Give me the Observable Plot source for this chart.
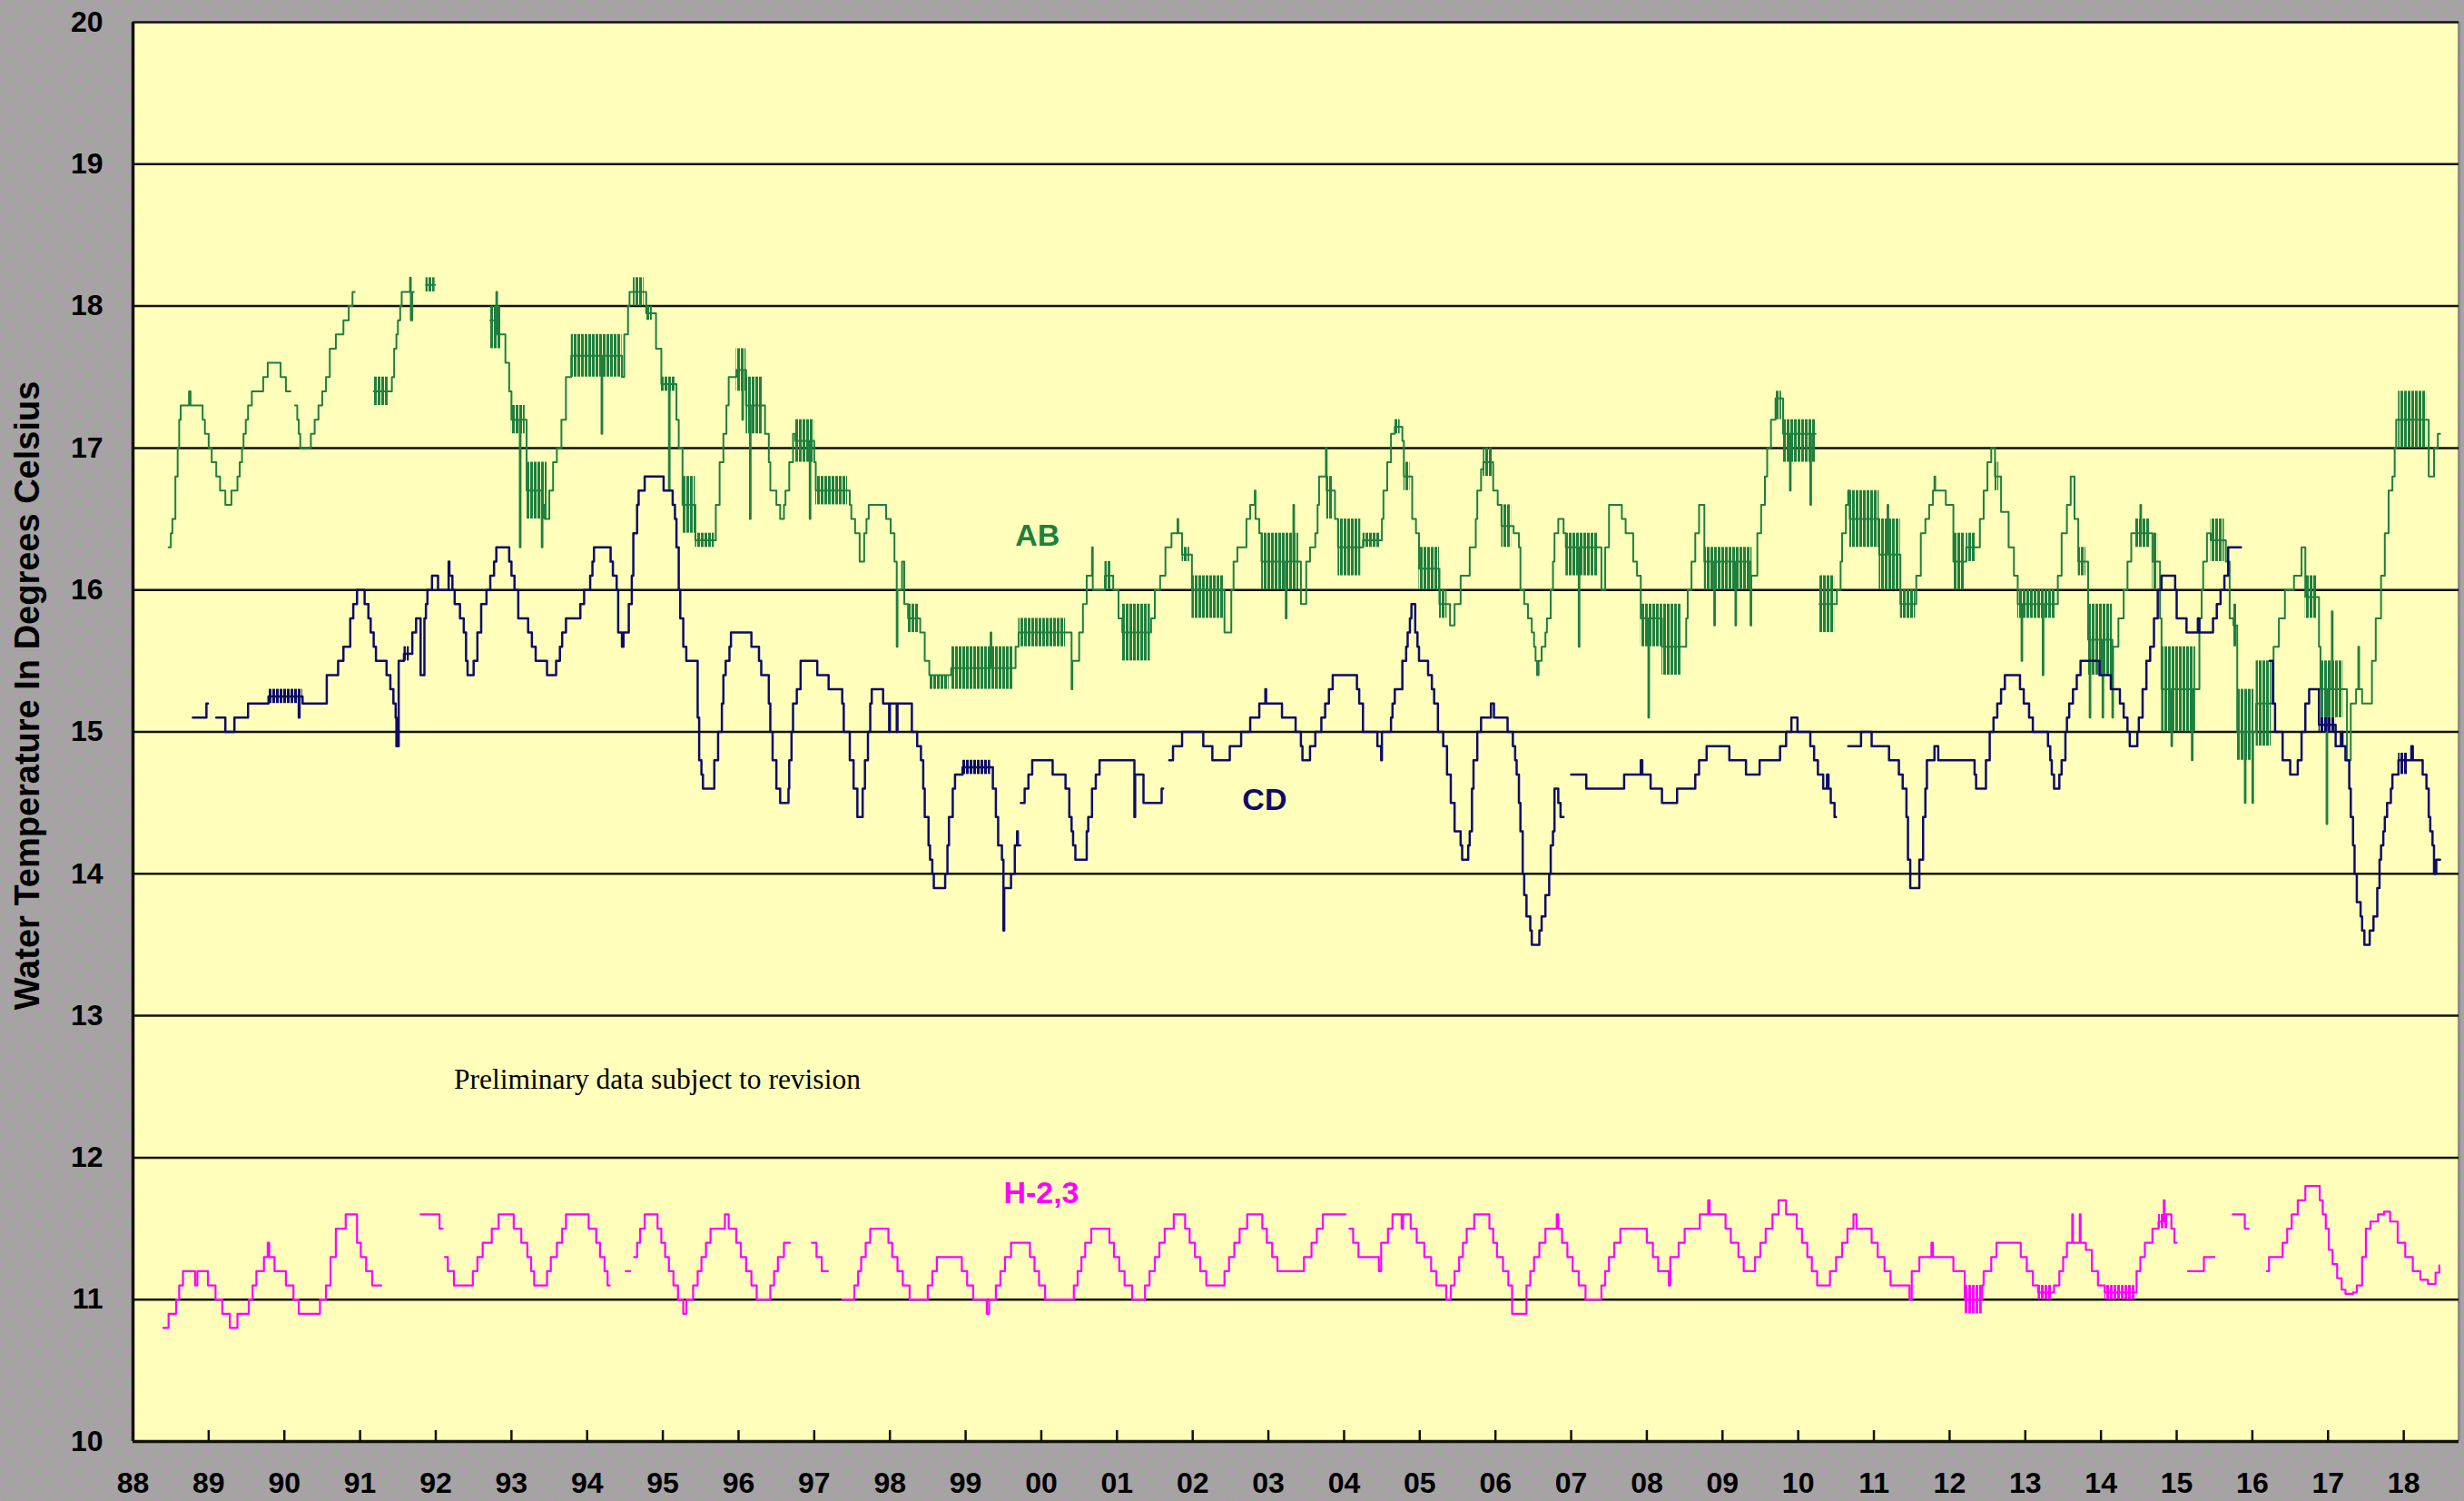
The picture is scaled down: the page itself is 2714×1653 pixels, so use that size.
<!DOCTYPE html>
<html>
<head>
<meta charset="utf-8">
<script src="https://cdn.jsdelivr.net/npm/d3@7"></script>
<script src="https://cdn.jsdelivr.net/npm/@observablehq/plot@0.6"></script>
<style>
html, body { margin: 0; padding: 0; }
body {
  width: 2714px; height: 1653px; overflow: hidden;
  background: repeating-conic-gradient(#9ca698 0% 25%, #b0a0b0 0% 50%) 0 0 / 2px 2px;
}
#chart svg { display: block; }
</style>
</head>
<body>
<div id="chart"></div>
<script>
// ---------- axis values ----------
const xDomain = [1988, 2018.73];
const yDomain = [10, 20];
const xTicks = d3.range(1988, 2019);
const yTicks = d3.range(10, 21);
const gridValues = d3.range(11, 21);
const yTitle = "Water Temperature In Degrees Celsius";
const seriesNames = ["AB", "CD", "H-2,3"];
const note = "Preliminary data subject to revision";

// ---------- AB (decimal year, °C); null = gap ----------
const abPts = [
[1988.47,16.3],[1988.50,16.4],[1988.52,16.5],[1988.56,16.8],[1988.59,17.0],[1988.61,17.2],[1988.63,17.3],[1988.74,17.4],[1988.76,17.3],[1988.92,17.2],[1988.95,17.1],[1989.00,17.0],[1989.04,16.9],[1989.10,16.8],[1989.15,16.7],[1989.22,16.6],[1989.30,16.7],[1989.38,16.8],[1989.41,16.9],[1989.44,17.0],[1989.46,17.1],[1989.49,17.2],[1989.52,17.3],[1989.57,17.4],[1989.72,17.5],[1989.78,17.6],[1989.95,17.5],[1990.02,17.4],[1990.08,null],
[1990.14,17.3],[1990.17,17.2],[1990.19,17.1],[1990.21,17.0],[1990.35,17.1],[1990.40,17.2],[1990.45,17.3],[1990.50,17.4],[1990.55,17.5],[1990.60,17.7],[1990.68,17.8],[1990.78,17.9],[1990.85,18.0],[1990.90,18.1],[1990.93,null],
[1991.18,17.4],[1991.37,17.4],[1991.42,17.5],[1991.45,17.7],[1991.48,17.8],[1991.50,17.9],[1991.53,18.0],[1991.55,18.1],[1991.66,18.2],[1991.67,17.9],[1991.69,18.1],[1991.71,null],
[1991.87,18.15],[1991.99,null],
[1992.72,17.9],[1992.80,18.1],[1992.81,17.8],[1992.86,17.8],[1992.92,17.6],[1992.97,17.4],[1993.00,17.2],[1993.11,16.3],[1993.12,17.2],[1993.20,16.7],[1993.40,16.3],[1993.41,16.6],[1993.44,16.5],[1993.50,16.7],[1993.55,16.9],[1993.60,17.0],[1993.66,17.2],[1993.72,17.5],[1993.79,17.65],[1994.19,17.1],[1994.20,17.65],[1994.46,17.5],[1994.49,17.8],[1994.54,18.0],[1994.56,18.1],[1994.78,17.95],[1994.91,17.7],[1994.98,17.45],[1995.08,16.7],[1995.09,17.45],[1995.18,17.2],[1995.21,17.0],[1995.26,16.6],[1995.43,16.35],[1995.70,16.6],[1995.75,16.9],[1995.80,17.1],[1995.84,17.3],[1995.87,17.5],[1995.97,17.55],[1996.05,17.2],[1996.06,17.55],[1996.10,17.3],[1996.15,16.5],[1996.16,17.3],[1996.35,17.1],[1996.40,16.9],[1996.42,16.7],[1996.50,16.6],[1996.55,16.5],[1996.60,16.6],[1996.62,16.7],[1996.67,16.9],[1996.72,17.1],[1996.75,17.05],[1996.94,16.5],[1996.95,17.05],[1997.00,16.9],[1997.02,16.7],[1997.47,16.6],[1997.49,16.5],[1997.54,16.4],[1997.60,16.2],[1997.66,16.4],[1997.69,16.5],[1997.72,16.6],[1997.95,16.5],[1998.01,16.4],[1998.06,16.2],[1998.09,15.6],[1998.10,16.0],[1998.16,16.2],[1998.19,15.9],[1998.24,15.8],[1998.40,15.7],[1998.46,15.5],[1998.52,15.4],[1998.81,15.45],[1999.33,15.7],[1999.34,15.45],[1999.66,15.6],[1999.70,15.7],[2000.40,15.3],[2000.41,15.5],[2000.50,15.7],[2000.55,15.9],[2000.60,16.1],[2000.67,16.3],[2000.68,16.0],[2000.84,16.1],[2000.95,16.0],[2001.02,15.8],[2001.07,15.7],[2001.45,15.8],[2001.50,16.0],[2001.57,16.1],[2001.64,16.3],[2001.72,16.4],[2001.80,16.5],[2001.81,16.4],[2001.86,16.25],[2001.99,16.0],[2002.42,15.7],[2002.51,16.0],[2002.54,16.2],[2002.59,16.3],[2002.71,16.5],[2002.76,16.6],[2002.82,16.7],[2002.83,16.5],[2002.88,16.4],[2002.91,16.2],[2003.23,15.8],[2003.24,16.2],[2003.33,16.6],[2003.34,16.2],[2003.43,15.9],[2003.50,16.2],[2003.55,16.3],[2003.62,16.4],[2003.65,16.6],[2003.67,16.8],[2003.76,17.0],[2003.77,16.7],[2003.88,16.5],[2003.92,16.3],[2004.25,16.35],[2004.50,16.5],[2004.52,16.7],[2004.57,16.9],[2004.62,17.1],[2004.67,17.15],[2004.77,17.05],[2004.79,16.8],[2004.90,16.5],[2004.95,16.4],[2004.99,16.15],[2005.26,15.9],[2005.40,15.75],[2005.46,15.9],[2005.54,16.1],[2005.66,16.3],[2005.74,16.5],[2005.76,16.7],[2005.81,16.85],[2005.84,16.9],[2005.97,16.7],[2006.03,16.6],[2006.08,16.45],[2006.24,16.4],[2006.31,16.3],[2006.33,16.0],[2006.38,15.9],[2006.43,15.8],[2006.48,15.7],[2006.51,15.6],[2006.53,15.5],[2006.55,15.4],[2006.57,15.5],[2006.61,15.6],[2006.66,15.7],[2006.68,15.8],[2006.73,16.0],[2006.76,16.2],[2006.78,16.4],[2006.83,16.5],[2006.90,16.4],[2006.93,16.3],[2007.10,15.6],[2007.11,16.3],[2007.40,16.0],[2007.45,16.3],[2007.50,16.6],[2007.67,16.5],[2007.72,16.4],[2007.82,16.2],[2007.87,16.1],[2007.92,15.8],[2008.02,15.1],[2008.03,15.8],[2008.20,15.6],[2008.45,15.6],[2008.52,15.8],[2008.54,16.0],[2008.59,16.2],[2008.64,16.4],[2008.69,16.6],[2008.76,16.2],[2008.89,15.75],[2008.90,16.2],[2009.17,15.75],[2009.18,16.2],[2009.37,15.75],[2009.38,16.1],[2009.46,16.4],[2009.51,16.6],[2009.56,16.8],[2009.59,17.0],[2009.64,17.2],[2009.70,17.35],[2009.80,17.1],[2009.89,16.7],[2009.90,17.1],[2010.16,16.6],[2010.17,17.1],[2010.23,null],
[2010.28,15.9],[2010.48,15.9],[2010.51,16.0],[2010.56,16.2],[2010.58,16.4],[2010.63,16.6],[2010.66,16.7],[2010.68,16.5],[2011.07,16.25],[2011.18,16.6],[2011.19,16.25],[2011.35,15.9],[2011.56,16.1],[2011.62,16.4],[2011.68,16.5],[2011.73,16.6],[2011.78,16.7],[2011.80,16.8],[2011.81,16.7],[2011.95,16.6],[2012.05,16.2],[2012.22,16.3],[2012.40,16.5],[2012.45,16.7],[2012.50,16.9],[2012.55,17.0],[2012.60,16.8],[2012.68,16.55],[2012.78,16.3],[2012.85,16.1],[2012.90,15.9],[2012.95,15.5],[2012.96,15.9],[2013.23,15.4],[2013.24,15.9],[2013.43,16.1],[2013.48,16.4],[2013.55,16.6],[2013.60,16.8],[2013.65,16.5],[2013.70,16.2],[2013.83,15.65],[2013.85,15.1],[2013.86,15.65],[2014.02,15.1],[2014.03,15.65],[2014.15,15.1],[2014.16,15.6],[2014.23,15.8],[2014.30,16.0],[2014.35,16.2],[2014.40,16.4],[2014.52,16.6],[2014.53,16.4],[2014.68,16.2],[2014.78,15.8],[2014.80,15.3],[2014.93,14.9],[2014.94,15.3],[2015.20,14.8],[2015.21,15.3],[2015.30,15.8],[2015.33,16.0],[2015.35,16.2],[2015.40,16.4],[2015.45,16.35],[2015.65,16.2],[2015.70,15.8],[2015.75,15.75],[2015.80,15.0],[2015.90,14.5],[2015.91,15.0],[2016.00,14.5],[2016.01,15.0],[2016.05,15.2],[2016.28,15.6],[2016.35,15.8],[2016.43,16.0],[2016.55,16.1],[2016.65,16.3],[2016.70,15.95],[2016.88,15.6],[2016.90,15.3],[2016.98,14.35],[2016.99,15.3],[2017.05,15.85],[2017.06,15.3],[2017.25,14.8],[2017.30,15.2],[2017.37,15.3],[2017.40,15.6],[2017.41,15.3],[2017.45,15.2],[2017.58,15.5],[2017.63,15.8],[2017.70,16.1],[2017.75,16.4],[2017.80,16.7],[2017.85,16.8],[2017.88,17.0],[2017.90,17.2],[2018.33,16.8],[2018.40,17.0],[2018.45,17.1],[2018.48,17.1]
];
// noisy stretches of AB: [from, to, low, high]
const abBands = [
[1991.18,1991.37,17.3,17.5],[1991.87,1991.99,18.1,18.2],[1992.72,1992.86,17.7,18.0],[1993.00,1993.18,17.1,17.3],[1993.20,1993.47,16.5,16.9],[1993.79,1994.46,17.5,17.8],[1994.61,1994.75,18.0,18.2],[1994.78,1994.86,17.9,18.0],[1994.98,1995.16,17.4,17.5],[1995.26,1995.43,16.4,16.8],[1995.43,1995.68,16.3,16.4],[1995.97,1996.10,17.4,17.7],[1996.10,1996.32,17.1,17.5],[1996.75,1997.00,16.9,17.2],[1997.02,1997.44,16.6,16.8],[1998.24,1998.38,15.7,15.9],[1998.52,1998.78,15.3,15.4],[1998.81,1999.63,15.3,15.6],[1999.70,2000.32,15.6,15.8],[2000.84,2000.92,16.0,16.2],[2001.07,2001.44,15.5,15.9],[2001.86,2001.96,16.2,16.3],[2001.99,2002.41,15.8,16.1],[2002.91,2003.40,16.0,16.4],[2003.77,2003.85,16.5,16.8],[2003.92,2004.22,16.1,16.5],[2004.25,2004.47,16.3,16.4],[2004.67,2004.74,17.1,17.2],[2004.79,2004.87,16.7,16.9],[2004.99,2005.26,16.0,16.3],[2005.26,2005.36,15.8,16.0],[2005.84,2005.96,16.8,17.0],[2006.08,2006.21,16.3,16.6],[2006.93,2007.35,16.1,16.4],[2007.92,2008.20,15.6,15.9],[2008.20,2008.45,15.4,15.9],[2008.76,2009.39,16.0,16.3],[2009.70,2009.78,17.2,17.4],[2009.80,2010.23,16.9,17.2],[2010.28,2010.48,15.7,16.1],[2010.68,2011.07,16.3,16.7],[2011.07,2011.35,16.0,16.5],[2011.35,2011.55,15.8,16.0],[2012.05,2012.20,16.0,16.4],[2012.22,2012.35,16.2,16.4],[2012.60,2012.65,16.7,16.9],[2012.90,2013.40,15.8,16.0],[2013.70,2013.80,16.1,16.3],[2013.83,2014.15,15.4,15.9],[2014.45,2014.65,16.3,16.5],[2014.68,2014.75,16.0,16.4],[2014.80,2015.25,15.0,15.6],[2015.45,2015.63,16.2,16.5],[2015.75,2015.80,15.6,15.9],[2015.80,2016.02,14.8,15.3],[2016.05,2016.25,14.9,15.5],[2016.70,2016.85,15.8,16.1],[2016.90,2017.20,15.1,15.5],[2017.93,2018.30,17.0,17.4]
];

// ---------- CD ----------
const cdPts = [
[1988.79,15.1],[1988.97,15.2],[1988.99,null],
[1989.10,15.1],[1989.22,15.0],[1989.34,15.1],[1989.52,15.2],[1989.79,15.25],[1990.19,15.1],[1990.20,15.25],[1990.24,15.2],[1990.56,15.4],[1990.71,15.5],[1990.78,15.6],[1990.87,15.8],[1990.91,15.9],[1990.96,16.0],[1991.06,15.9],[1991.11,15.8],[1991.14,15.7],[1991.18,15.6],[1991.21,15.5],[1991.35,15.4],[1991.40,15.3],[1991.44,15.2],[1991.47,15.1],[1991.48,14.9],[1991.51,15.5],[1991.58,15.55],[1991.69,15.7],[1991.74,15.8],[1991.80,15.4],[1991.85,15.8],[1991.87,15.9],[1991.89,16.0],[1991.95,16.1],[1992.03,16.0],[1992.17,16.2],[1992.18,16.1],[1992.22,16.0],[1992.25,15.9],[1992.32,15.8],[1992.37,15.7],[1992.40,15.5],[1992.42,15.4],[1992.50,15.5],[1992.55,15.7],[1992.60,15.9],[1992.67,16.0],[1992.72,16.1],[1992.77,16.2],[1992.80,16.3],[1992.97,16.2],[1993.00,16.1],[1993.04,16.0],[1993.09,15.8],[1993.22,15.7],[1993.27,15.6],[1993.32,15.5],[1993.47,15.4],[1993.59,15.5],[1993.64,15.6],[1993.67,15.7],[1993.72,15.8],[1993.91,15.9],[1993.96,16.0],[1994.04,16.1],[1994.07,16.2],[1994.09,16.3],[1994.31,16.2],[1994.34,16.1],[1994.39,16.0],[1994.41,15.7],[1994.46,15.6],[1994.48,15.7],[1994.55,15.9],[1994.59,16.1],[1994.61,16.4],[1994.66,16.6],[1994.68,16.7],[1994.76,16.8],[1995.01,16.7],[1995.13,16.6],[1995.16,16.5],[1995.18,16.3],[1995.21,16.0],[1995.23,15.8],[1995.27,15.6],[1995.31,15.5],[1995.46,15.1],[1995.48,14.8],[1995.51,14.7],[1995.53,14.6],[1995.68,14.8],[1995.73,15.0],[1995.78,15.2],[1995.80,15.4],[1995.83,15.5],[1995.88,15.6],[1995.90,15.7],[1996.17,15.6],[1996.27,15.5],[1996.30,15.4],[1996.40,15.2],[1996.42,15.0],[1996.45,14.8],[1996.50,14.6],[1996.55,14.5],[1996.66,14.6],[1996.67,14.8],[1996.70,15.0],[1996.72,15.2],[1996.77,15.3],[1996.82,15.5],[1997.04,15.4],[1997.19,15.3],[1997.37,15.2],[1997.39,15.0],[1997.47,14.8],[1997.52,14.6],[1997.57,14.4],[1997.64,14.6],[1997.67,14.8],[1997.71,15.0],[1997.74,15.2],[1997.76,15.3],[1997.91,15.2],[1997.99,15.0],[1998.00,15.2],[1998.09,15.0],[1998.10,15.2],[1998.29,15.0],[1998.36,14.9],[1998.41,14.8],[1998.44,14.6],[1998.46,14.4],[1998.51,14.2],[1998.53,14.1],[1998.56,14.0],[1998.58,13.9],[1998.73,14.0],[1998.76,14.2],[1998.78,14.4],[1998.83,14.6],[1998.86,14.7],[1998.96,14.75],[1999.36,14.6],[1999.40,14.4],[1999.43,14.2],[1999.48,14.1],[1999.50,13.6],[1999.51,13.9],[1999.60,14.0],[1999.65,14.2],[1999.68,14.3],[1999.69,14.2],[1999.72,null],
[1999.73,14.5],[1999.78,14.6],[1999.83,14.7],[1999.88,14.8],[2000.15,14.7],[2000.32,14.6],[2000.37,14.4],[2000.40,14.3],[2000.42,14.2],[2000.45,14.1],[2000.60,14.3],[2000.62,14.4],[2000.67,14.6],[2000.72,14.7],[2000.77,14.8],[2001.23,14.4],[2001.24,14.7],[2001.35,14.5],[2001.59,14.6],[2001.61,null],
[2001.69,14.8],[2001.74,14.9],[2001.86,15.0],[2002.14,14.9],[2002.26,14.8],[2002.49,14.9],[2002.64,15.0],[2002.76,15.1],[2002.88,15.2],[2002.96,15.3],[2002.97,15.2],[2003.18,15.1],[2003.36,15.0],[2003.43,14.9],[2003.45,14.8],[2003.55,14.9],[2003.62,15.0],[2003.70,15.1],[2003.75,15.2],[2003.80,15.3],[2003.85,15.4],[2004.17,15.3],[2004.20,15.2],[2004.25,15.0],[2004.44,14.9],[2004.49,14.8],[2004.50,15.0],[2004.62,15.1],[2004.64,15.2],[2004.67,15.3],[2004.77,15.5],[2004.82,15.6],[2004.84,15.7],[2004.87,15.8],[2004.89,15.9],[2004.94,15.7],[2004.97,15.6],[2004.99,15.5],[2005.11,15.4],[2005.16,15.3],[2005.19,15.2],[2005.24,15.0],[2005.31,14.9],[2005.36,14.7],[2005.41,14.5],[2005.46,14.3],[2005.54,14.2],[2005.56,14.1],[2005.64,14.2],[2005.66,14.3],[2005.69,14.6],[2005.71,14.8],[2005.76,15.0],[2005.81,15.1],[2005.94,15.2],[2005.98,15.1],[2006.16,15.0],[2006.23,14.9],[2006.26,14.8],[2006.28,14.7],[2006.31,14.5],[2006.33,14.3],[2006.36,14.0],[2006.38,13.85],[2006.41,13.7],[2006.46,13.6],[2006.48,13.5],[2006.58,13.6],[2006.61,13.7],[2006.66,13.85],[2006.71,14.0],[2006.73,14.2],[2006.76,14.3],[2006.78,14.6],[2006.83,14.5],[2006.86,14.4],[2006.90,null],
[2007.00,14.7],[2007.20,14.6],[2007.70,14.7],[2007.92,14.8],[2007.94,14.7],[2008.05,14.6],[2008.20,14.5],[2008.40,14.6],[2008.64,14.7],[2008.69,14.8],[2008.79,14.9],[2009.09,14.8],[2009.31,14.7],[2009.49,14.8],[2009.76,14.9],[2009.84,15.0],[2009.91,15.1],[2009.99,15.0],[2010.16,14.9],[2010.21,14.8],[2010.26,14.7],[2010.33,14.6],[2010.38,14.7],[2010.40,14.6],[2010.43,14.5],[2010.48,14.4],[2010.50,null],
[2010.66,14.9],[2010.83,15.0],[2010.97,14.9],[2011.20,14.8],[2011.33,14.7],[2011.38,14.6],[2011.43,14.4],[2011.45,14.1],[2011.48,13.9],[2011.60,14.1],[2011.65,14.4],[2011.68,14.6],[2011.70,14.8],[2011.80,14.9],[2011.85,14.8],[2012.33,14.7],[2012.35,14.6],[2012.48,14.8],[2012.53,15.0],[2012.58,15.1],[2012.63,15.2],[2012.68,15.3],[2012.73,15.4],[2012.93,15.3],[2012.98,15.2],[2013.05,15.1],[2013.10,15.0],[2013.30,14.9],[2013.33,14.8],[2013.35,14.7],[2013.38,14.6],[2013.45,14.7],[2013.48,14.8],[2013.53,15.0],[2013.55,15.1],[2013.58,15.2],[2013.63,15.3],[2013.68,15.4],[2013.73,15.5],[2013.98,15.4],[2014.13,15.3],[2014.25,15.2],[2014.30,15.1],[2014.35,15.0],[2014.38,14.9],[2014.48,15.0],[2014.50,15.1],[2014.55,15.3],[2014.60,15.5],[2014.65,15.6],[2014.70,15.8],[2014.75,16.0],[2014.80,16.1],[2014.98,16.0],[2015.00,15.8],[2015.13,15.7],[2015.28,15.8],[2015.30,15.7],[2015.48,15.8],[2015.53,15.9],[2015.58,16.0],[2015.63,16.1],[2015.68,16.3],[2015.85,null],
[2016.23,15.5],[2016.27,15.2],[2016.30,15.0],[2016.40,14.8],[2016.50,14.7],[2016.60,14.8],[2016.65,15.0],[2016.70,15.2],[2016.75,15.3],[2016.88,15.05],[2017.10,14.9],[2017.17,15.0],[2017.19,14.9],[2017.23,14.8],[2017.28,14.6],[2017.30,14.4],[2017.33,14.2],[2017.35,14.0],[2017.38,13.8],[2017.43,13.7],[2017.45,13.6],[2017.48,13.5],[2017.55,13.6],[2017.60,13.7],[2017.65,13.9],[2017.68,14.1],[2017.70,14.2],[2017.73,14.3],[2017.75,14.4],[2017.78,14.5],[2017.83,14.6],[2017.85,14.7],[2017.93,14.8],[2018.10,14.9],[2018.12,14.8],[2018.25,14.7],[2018.30,14.6],[2018.33,14.4],[2018.35,14.3],[2018.38,14.2],[2018.40,14.0],[2018.43,14.1],[2018.48,14.1]
];
const cdBands = [
[1989.79,1990.24,15.2,15.3],[1991.58,1991.65,15.5,15.6],[1998.96,1999.33,14.7,14.8],[2016.88,2017.10,15.0,15.1],[2017.93,2018.05,14.7,14.85]
];

// ---------- H-2,3 ----------
const hPts = [
[1988.40,10.8],[1988.47,10.9],[1988.57,11.0],[1988.61,11.1],[1988.66,11.2],[1988.82,11.1],[1988.85,11.2],[1988.99,11.1],[1989.09,11.0],[1989.18,10.9],[1989.28,10.8],[1989.38,10.9],[1989.53,11.0],[1989.58,11.1],[1989.63,11.2],[1989.73,11.3],[1989.78,11.4],[1989.80,11.3],[1989.87,11.2],[1990.02,11.1],[1990.12,11.0],[1990.19,10.9],[1990.47,11.0],[1990.55,11.1],[1990.61,11.3],[1990.68,11.5],[1990.81,11.6],[1990.96,11.4],[1991.01,11.3],[1991.08,11.2],[1991.16,11.1],[1991.28,null],
[1991.80,11.6],[1992.05,11.5],[1992.09,null],
[1992.12,11.3],[1992.16,11.2],[1992.24,11.1],[1992.49,11.2],[1992.55,11.3],[1992.62,11.4],[1992.74,11.5],[1992.83,11.6],[1993.03,11.5],[1993.13,11.4],[1993.21,11.3],[1993.26,11.2],[1993.30,11.1],[1993.47,11.2],[1993.52,11.3],[1993.60,11.4],[1993.67,11.5],[1993.72,11.6],[1994.02,11.5],[1994.12,11.4],[1994.17,11.3],[1994.23,11.2],[1994.27,11.1],[1994.30,null],
[1994.51,11.2],[1994.57,null],
[1994.62,11.3],[1994.66,11.4],[1994.70,11.5],[1994.76,11.6],[1994.93,11.5],[1994.98,11.4],[1995.03,11.3],[1995.08,11.2],[1995.14,11.1],[1995.20,11.0],[1995.27,10.9],[1995.31,11.0],[1995.40,11.1],[1995.46,11.2],[1995.51,11.3],[1995.57,11.4],[1995.63,11.5],[1995.82,11.6],[1995.87,11.5],[1995.97,11.4],[1996.03,11.3],[1996.10,11.2],[1996.17,11.1],[1996.24,11.0],[1996.42,11.1],[1996.47,11.2],[1996.52,11.3],[1996.60,11.4],[1996.68,null],
[1996.97,11.4],[1997.03,11.3],[1997.10,11.2],[1997.18,null],
[1997.37,11.0],[1997.53,11.1],[1997.58,11.2],[1997.62,11.3],[1997.68,11.4],[1997.74,11.5],[1997.98,11.4],[1998.03,11.3],[1998.10,11.2],[1998.17,11.1],[1998.26,11.0],[1998.50,11.1],[1998.56,11.2],[1998.62,11.3],[1998.95,11.2],[1999.02,11.1],[1999.10,11.0],[1999.28,10.9],[1999.31,11.0],[1999.40,11.1],[1999.46,11.2],[1999.52,11.3],[1999.60,11.4],[1999.85,11.3],[1999.91,11.2],[1999.97,11.1],[2000.05,11.0],[2000.43,11.1],[2000.48,11.2],[2000.53,11.3],[2000.58,11.4],[2000.66,11.5],[2000.90,11.4],[2000.96,11.3],[2001.03,11.2],[2001.10,11.1],[2001.20,11.0],[2001.37,11.1],[2001.43,11.2],[2001.50,11.3],[2001.56,11.4],[2001.63,11.5],[2001.75,11.6],[2001.90,11.5],[2001.96,11.4],[2002.03,11.3],[2002.10,11.2],[2002.18,11.1],[2002.42,11.2],[2002.48,11.3],[2002.55,11.4],[2002.62,11.5],[2002.72,11.6],[2002.92,11.5],[2002.98,11.4],[2003.05,11.3],[2003.12,11.2],[2003.47,11.3],[2003.57,11.4],[2003.64,11.5],[2003.72,11.6],[2004.02,null],
[2004.07,11.5],[2004.12,11.4],[2004.19,11.3],[2004.46,11.2],[2004.49,11.4],[2004.58,11.5],[2004.64,11.6],[2004.76,11.5],[2004.78,11.6],[2004.88,11.5],[2004.96,11.4],[2005.06,11.3],[2005.15,11.2],[2005.22,11.1],[2005.35,11.0],[2005.41,11.1],[2005.46,11.2],[2005.52,11.3],[2005.57,11.4],[2005.62,11.5],[2005.72,11.6],[2005.92,11.5],[2005.97,11.4],[2006.02,11.3],[2006.10,11.2],[2006.17,11.1],[2006.22,10.9],[2006.41,11.1],[2006.46,11.2],[2006.51,11.3],[2006.58,11.4],[2006.66,11.5],[2006.81,11.6],[2006.83,11.5],[2006.88,11.4],[2006.95,11.3],[2007.02,11.2],[2007.10,11.1],[2007.19,11.0],[2007.40,11.1],[2007.45,11.2],[2007.50,11.3],[2007.57,11.4],[2007.65,11.5],[2008.00,11.4],[2008.08,11.3],[2008.15,11.2],[2008.29,11.1],[2008.31,11.3],[2008.42,11.4],[2008.50,11.5],[2008.70,11.6],[2008.81,11.7],[2008.83,11.6],[2009.04,11.5],[2009.11,11.4],[2009.21,11.3],[2009.28,11.2],[2009.43,11.3],[2009.50,11.4],[2009.57,11.5],[2009.66,11.6],[2009.74,11.7],[2009.84,11.6],[2009.98,11.5],[2010.05,11.4],[2010.12,11.3],[2010.18,11.2],[2010.25,11.1],[2010.42,11.2],[2010.50,11.3],[2010.58,11.4],[2010.65,11.5],[2010.73,11.6],[2010.77,11.5],[2010.97,11.4],[2011.05,11.3],[2011.14,11.2],[2011.22,11.1],[2011.47,11.0],[2011.50,11.2],[2011.60,11.3],[2011.76,11.4],[2011.78,11.3],[2012.05,11.2],[2012.20,11.0],[2012.43,11.1],[2012.45,11.2],[2012.55,11.3],[2012.62,11.4],[2012.94,11.3],[2013.02,11.2],[2013.10,11.1],[2013.17,11.05],[2013.38,11.1],[2013.45,11.2],[2013.50,11.3],[2013.55,11.4],[2013.62,11.6],[2013.63,11.4],[2013.72,11.6],[2013.73,11.4],[2013.80,11.35],[2013.88,11.2],[2013.96,11.1],[2014.05,11.05],[2014.47,11.2],[2014.52,11.3],[2014.58,11.4],[2014.68,11.5],[2014.76,11.55],[2014.83,11.7],[2014.84,11.6],[2014.93,11.5],[2014.97,11.4],[2015.00,null],
[2015.15,11.2],[2015.36,11.3],[2015.50,null],
[2015.74,11.6],[2015.90,11.5],[2015.95,null],
[2016.19,11.2],[2016.22,11.3],[2016.40,11.4],[2016.46,11.5],[2016.52,11.6],[2016.60,11.7],[2016.70,11.8],[2016.89,11.7],[2016.93,11.6],[2016.97,11.5],[2017.01,11.35],[2017.06,11.25],[2017.12,11.15],[2017.18,11.07],[2017.23,11.04],[2017.33,11.05],[2017.38,11.1],[2017.45,11.3],[2017.50,11.5],[2017.56,11.55],[2017.66,11.6],[2017.74,11.62],[2017.82,11.55],[2017.92,11.4],[2018.02,11.3],[2018.12,11.2],[2018.22,11.14],[2018.32,11.11],[2018.42,11.19],[2018.47,11.24]
];
const hBands = [
[2012.20,2012.43,10.9,11.1],[2013.17,2013.35,11.0,11.1],[2014.05,2014.46,11.0,11.1],[2014.76,2014.88,11.5,11.6]
];

// ---------- colours ----------
const AB_COLOR = "#1f7f3f";
const CD_COLOR = "#0c0c6a";
const H_COLOR = "#ff00ff";

// step line rows; a null value closes the segment at that time
function toRows(pts) {
  const rows = [];
  let prev = null;
  for (const [t, v] of pts) {
    if (v === null) {
      if (prev !== null) rows.push({t, v: prev});
      rows.push({t, v: NaN});
      prev = null;
    } else {
      rows.push({t, v});
      prev = v;
    }
  }
  return rows;
}
const bandOpts = (fill) => ({x1: d => d[0], x2: d => d[1], y1: d => d[2], y2: d => d[3], fill});

const W = 2714, H = 1653, mL = 146, mR = 6, mT = 24, mB = 66;
const plotH = H - mT - mB;

const chart = Plot.plot({
  width: W, height: H,
  marginLeft: mL, marginRight: mR, marginTop: mT, marginBottom: mB,
  x: {domain: xDomain},
  y: {domain: yDomain},
  style: {background: "none", fontFamily: "'Liberation Sans', Arial, sans-serif", color: "black", overflow: "visible"},
  marks: [
    Plot.frame({fill: "#ffffbb", stroke: "none"}),
    Plot.ruleX([xDomain[1]], {stroke: "#8c8c8c", strokeWidth: 3}),
    Plot.ruleY(gridValues, {stroke: "#111", strokeWidth: 2.5}),
    Plot.ruleX(xTicks.slice(1), {stroke: "#111", strokeWidth: 2.5, insetTop: plotH - 12}),

    Plot.rect(abBands, bandOpts(AB_COLOR)),
    Plot.line(toRows(abPts), {x: "t", y: "v", curve: "step-after", stroke: AB_COLOR, strokeWidth: 2}),
    Plot.rect(cdBands, bandOpts(CD_COLOR)),
    Plot.line(toRows(cdPts), {x: "t", y: "v", curve: "step-after", stroke: CD_COLOR, strokeWidth: 2.5}),
    Plot.rect(hBands, bandOpts(H_COLOR)),
    Plot.line(toRows(hPts), {x: "t", y: "v", curve: "step-after", stroke: H_COLOR, strokeWidth: 2.2}),

    Plot.ruleY([yDomain[0]], {stroke: "#111", strokeWidth: 3.5}),
    Plot.ruleX([xDomain[0]], {stroke: "#111", strokeWidth: 3.5}),

    Plot.text([seriesNames[0]], {x: 1999.95, y: 16.38, fill: AB_COLOR, fontSize: 34, fontWeight: "bold", textAnchor: "middle", lineAnchor: "middle"}),
    Plot.text([seriesNames[1]], {x: 2002.95, y: 14.52, fill: CD_COLOR, fontSize: 34, fontWeight: "bold", textAnchor: "middle", lineAnchor: "middle"}),
    Plot.text([seriesNames[2]], {x: 2000.0, y: 11.75, fill: H_COLOR, fontSize: 34, fontWeight: "bold", textAnchor: "middle", lineAnchor: "middle"}),
    Plot.text([note], {x: 1992.24, y: 12.55, fill: "black", fontSize: 31.5, fontFamily: "'Liberation Serif', 'Times New Roman', serif", textAnchor: "start", lineAnchor: "middle"}),

    Plot.axisX({ticks: xTicks, tickSize: 0, tickPadding: 34, tickFormat: d => String(d % 100).padStart(2, "0"), fontSize: 32, fontWeight: "bold", label: null}),
    Plot.axisY({ticks: yTicks, tickSize: 0, tickPadding: 33, fontSize: 32, fontWeight: "bold", label: null}),
    Plot.text([yTitle], {frameAnchor: "left", rotate: -90, dx: -116, dy: -40, textAnchor: "middle", lineAnchor: "middle", fontSize: 38, fontWeight: "bold", fill: "black"})
  ]
});

// vertical hatching for the noisy stretches, so they read as dense spikes rather than solid blocks
const svg = d3.select(chart);
const defs = svg.insert("defs", ":first-child");
[["abHatch", AB_COLOR], ["cdHatch", CD_COLOR], ["hHatch", H_COLOR]].forEach(([id, c]) => {
  const p = defs.append("pattern").attr("id", id).attr("patternUnits", "userSpaceOnUse").attr("width", 4).attr("height", 8);
  p.append("rect").attr("width", 3).attr("height", 8).attr("fill", c);
});
svg.selectAll('g[aria-label="rect"]').each(function(_, i) {
  d3.select(this).attr("fill", `url(#${["abHatch", "cdHatch", "hHatch"][i]})`);
});
document.getElementById("chart").appendChild(chart);
</script>
</body>
</html>
